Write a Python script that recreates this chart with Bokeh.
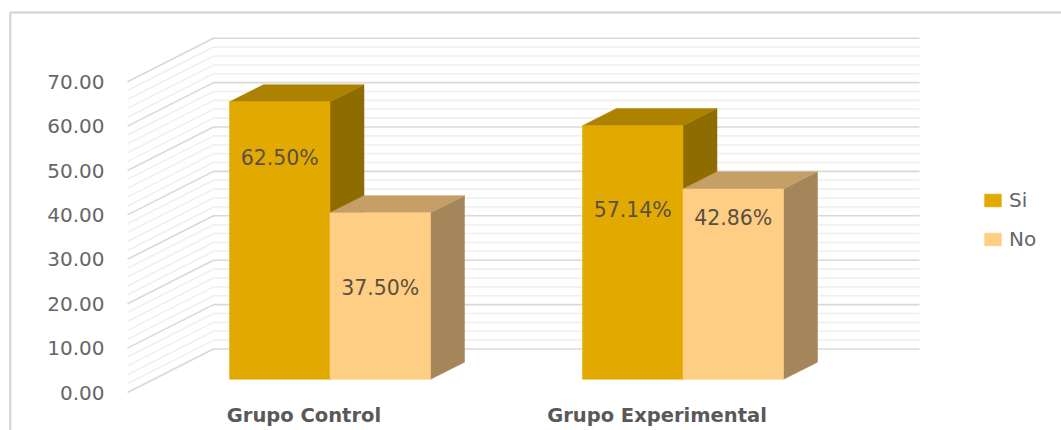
from bokeh.plotting import figure
from bokeh.models import ColumnDataSource, FixedTicker, Legend, LegendItem, NumeralTickFormatter
from bokeh.core.properties import value
from bokeh.embed import file_html
from bokeh.resources import INLINE

categories = ["Grupo Control", "Grupo Experimental"]
series_names = ["Si", "No"]
si_values = [62.50, 57.14]
no_values = [37.50, 42.86]
y_ticks = [0, 10, 20, 30, 40, 50, 60, 70]
minor_ticks = [2, 4, 6, 8, 12, 14, 16, 18, 22, 24, 26, 28, 32, 34, 36, 38,
               42, 44, 46, 48, 52, 54, 56, 58, 62, 64, 66, 68]

# layout (pixels) and colours
WIDTH, HEIGHT = 1061, 430
AXIS_PX_X, ZERO_PX_Y, XAXIS_PX_Y = 127, 392, 393
BORDER_PX_X, BORDER_PX_Y = 9.7, 12
PX_UNIT_Y = 4.44          # pixels per value unit
PX_UNIT_X = 353.0         # pixels per category
WALL_DX, WALL_DY = 86 / PX_UNIT_X, 43.5 / PX_UNIT_Y
Z_FRONT, Z_BACK = 26 / 86, 60 / 86
BAR_W = 100.5 / PX_UNIT_X
FONT = "DejaVu Sans"
TXT = "#666666"
SI = ("#E2AA00", "#AD8200", "#8F6C00")
NO = ("#FFCE85", "#C59F66", "#A5855A")
LABEL_DROP = {"Si": [56, 84], "No": [75, 29]}

x_start = -0.5 - AXIS_PX_X / PX_UNIT_X
x_end = x_start + WIDTH / PX_UNIT_X
y_start = (ZERO_PX_Y - HEIGHT) / PX_UNIT_Y
y_end = ZERO_PX_Y / PX_UNIT_Y

p = figure(
    width=WIDTH, height=HEIGHT, output_backend="svg", toolbar_location=None,
    x_range=(x_start, x_end), y_range=(y_start, y_end),
    min_border=0, outline_line_color=None, background_fill_color="white",
)
p.grid.visible = False

# axes live inside the frame, at fixed locations
p.yaxis.fixed_location = -0.5
p.yaxis.ticker = FixedTicker(ticks=y_ticks)
p.yaxis.formatter = NumeralTickFormatter(format="0.00")
p.yaxis.axis_line_color = None
p.yaxis.major_tick_line_color = None
p.yaxis.minor_tick_line_color = None
p.yaxis.major_tick_out = 0
p.yaxis.major_tick_in = 0
p.yaxis.major_label_standoff = 23
p.yaxis.major_label_text_font = FONT
p.yaxis.major_label_text_font_size = "20px"
p.yaxis.major_label_text_color = TXT

p.xaxis.fixed_location = (ZERO_PX_Y - XAXIS_PX_Y) / PX_UNIT_Y
p.xaxis.ticker = FixedTicker(ticks=list(range(len(categories))))
p.xaxis.major_label_overrides = {i: c for i, c in enumerate(categories)}
p.xaxis.axis_line_color = None
p.xaxis.major_tick_line_color = None
p.xaxis.minor_tick_line_color = None
p.xaxis.major_tick_out = 0
p.xaxis.major_tick_in = 0
p.xaxis.major_label_standoff = 10
p.xaxis.major_label_text_font = FONT
p.xaxis.major_label_text_font_style = "bold"
p.xaxis.major_label_text_font_size = "19.5px"
p.xaxis.major_label_text_color = "#595959"

# chart-area outline (left and top edges)
bx = x_start + BORDER_PX_X / PX_UNIT_X
by = y_end - BORDER_PX_Y / PX_UNIT_Y
p.line([bx, bx, x_end], [y_start, by, by], line_color="#D9D9D9", line_width=2.5)

# walls with gridlines
x_l, x_r = -0.5, 1.5


def walls(ticks, color, width):
    xs, ys = [], []
    for t in ticks:
        xs.append([x_l, x_l + WALL_DX, x_r + WALL_DX])
        ys.append([t, t + WALL_DY, t + WALL_DY])
    p.multi_line(xs, ys, line_color=color, line_width=width)


walls(minor_ticks, "#F0F0F0", 1.6)
walls(y_ticks, "#D9D9D9", 1.6)


def bars(values, shift, colors, name):
    dxf, dyf = Z_FRONT * WALL_DX, Z_FRONT * WALL_DY
    dxb, dyb = Z_BACK * WALL_DX, Z_BACK * WALL_DY
    lefts = [i + shift + dxf for i in range(len(values))]
    rights = [l + BAR_W for l in lefts]
    p.patches([[r, r + dxb - dxf, r + dxb - dxf, r] for r in rights],
              [[dyf, dyb, v + dyb, v + dyf] for v in values],
              fill_color=colors[2], line_color=colors[2], line_width=0.5)
    p.patches([[l, r, r + dxb - dxf, l + dxb - dxf] for l, r in zip(lefts, rights)],
              [[v + dyf, v + dyf, v + dyb, v + dyb] for v in values],
              fill_color=colors[1], line_color=colors[1], line_width=0.5)
    src = ColumnDataSource(dict(x=[(l + r) / 2 for l, r in zip(lefts, rights)],
                                top=[v + dyf for v in values],
                                bottom=[dyf] * len(values)))
    r = p.vbar(x="x", top="top", bottom="bottom", width=BAR_W, source=src,
               fill_color=colors[0], line_color=colors[0], line_width=0.5)
    return r, src


si_r, si_src = bars(si_values, -BAR_W, SI, "Si")
no_r, no_src = bars(no_values, 0, NO, "No")


def data_labels(src, values, name):
    p.text(x=src.data["x"], y=src.data["top"],
           text=[f"{v:.2f}%" for v in values],
           y_offset=LABEL_DROP[name],
           text_align="center", text_baseline="middle",
           text_font=value(FONT), text_font_size="20.5px", text_color="#5A5040")


data_labels(si_src, si_values, "Si")
data_labels(no_src, no_values, "No")

legend = Legend(items=[LegendItem(label=series_names[0], renderers=[si_r]),
                       LegendItem(label=series_names[1], renderers=[no_r])],
                location=(982, 179), orientation="vertical",
                background_fill_alpha=0, border_line_color=None,
                padding=0, margin=0, spacing=15,
                glyph_width=21, glyph_height=16, label_standoff=6,
                label_text_font=FONT, label_text_font_size="20px",
                label_text_color=TXT)
p.add_layout(legend)

open("out.html", "w").write(file_html(p, INLINE))
